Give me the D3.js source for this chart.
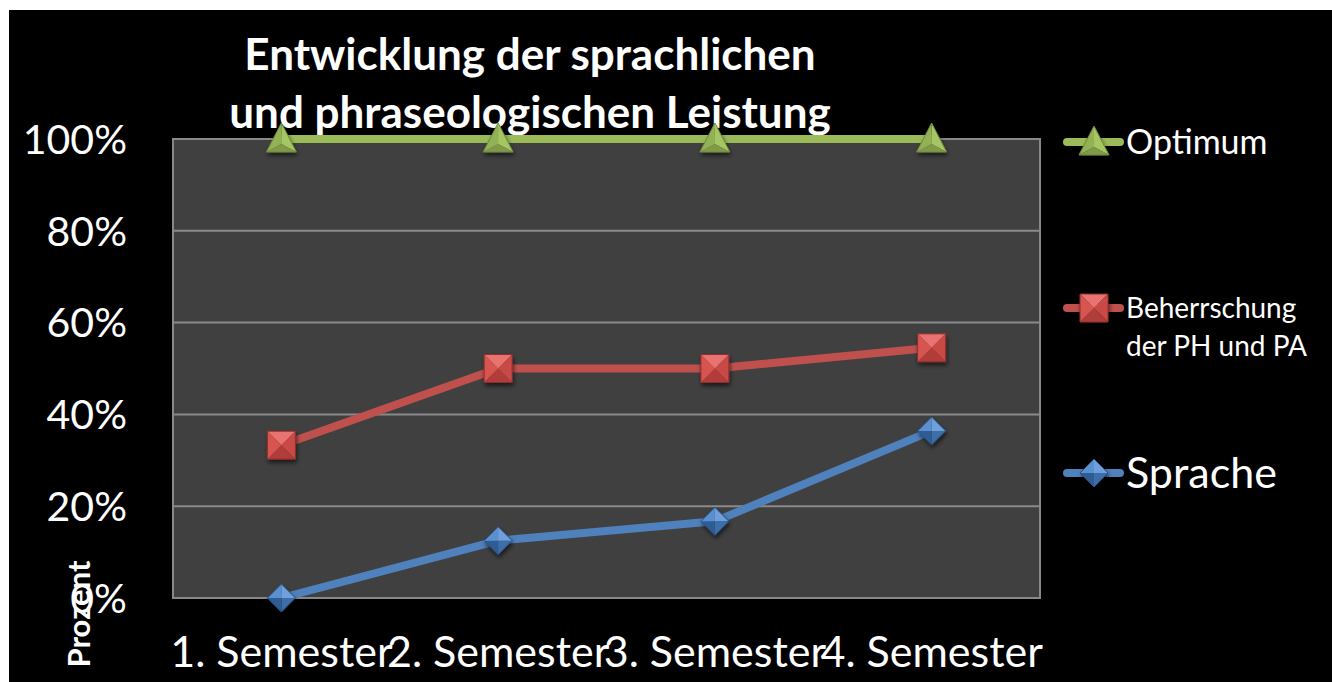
<!DOCTYPE html>
<html>
<head>
<meta charset="utf-8">
<script src="https://cdn.jsdelivr.net/npm/d3@7"></script>
<style>
  html, body { margin: 0; padding: 0; background: #fff; }
  svg { display: block; }
  text { font-family: Lato, "Open Sans", sans-serif; fill: #fff; }
</style>
</head>
<body>
<div id="chart"></div>
<script>
// data
const semesters = ["1. Semester", "2. Semester", "3. Semester", "4. Semester"];
const optimum = [1, 1, 1, 1];
const beherrschung = [0.333, 0.5, 0.5, 0.545];
const sprache = [0, 0.125, 0.167, 0.364];
const yTicks = [0, 0.2, 0.4, 0.6, 0.8, 1];
const titleLines = ["Entwicklung der sprachlichen", "und phraseologischen Leistung"];

const W = 1332, H = 682;
const plot = { left: 173, right: 1040, top: 139, bottom: 598 };

const svg = d3.select("#chart").append("svg")
  .attr("width", W).attr("height", H);

// black slide area
svg.append("rect").attr("x", 9).attr("y", 10)
  .attr("width", W - 9).attr("height", H - 10).attr("fill", "#000");

const defs = svg.append("defs");
const shadow = defs.append("filter").attr("id", "shadow")
  .attr("x", "-50%").attr("y", "-50%").attr("width", "200%").attr("height", "200%");
shadow.append("feDropShadow").attr("dx", 1).attr("dy", 3)
  .attr("stdDeviation", 2).attr("flood-color", "#000").attr("flood-opacity", 0.6);

const x = d3.scaleBand().domain(semesters).range([plot.left, plot.right]);
const y = d3.scaleLinear().domain([0, 1]).range([plot.bottom, plot.top]);
const cx = d => x(d) + x.bandwidth() / 2;

// plot area
svg.append("rect")
  .attr("x", plot.left).attr("y", plot.top)
  .attr("width", plot.right - plot.left).attr("height", plot.bottom - plot.top)
  .attr("fill", "#404040").attr("stroke", "#888").attr("stroke-width", 2);

// gridlines
svg.append("g").selectAll("line")
  .data(yTicks.filter(t => t > 0 && t < 1))
  .enter().append("line")
  .attr("x1", plot.left).attr("x2", plot.right)
  .attr("y1", d => y(d)).attr("y2", d => y(d))
  .attr("stroke", "#8a8a8a").attr("stroke-width", 2);

// y axis
const yAxis = svg.append("g")
  .attr("transform", `translate(${plot.left},0)`)
  .call(d3.axisLeft(y).tickValues(yTicks).tickFormat(d3.format(".0%"))
    .tickSize(0).tickPadding(46));
yAxis.select(".domain").remove();
yAxis.selectAll("text")
  .attr("fill", "#fff").style("font-size", "41px")
  .style("font-family", "Lato, sans-serif").attr("dy", "0.35em");

// x axis
const xAxis = svg.append("g")
  .attr("transform", `translate(0,${plot.bottom})`)
  .call(d3.axisBottom(x).tickSize(0).tickPadding(38));
xAxis.select(".domain").remove();
xAxis.selectAll("text")
  .attr("fill", "#fff").style("font-size", "43px")
  .style("font-family", "Lato, sans-serif");

// axis title
svg.append("text")
  .attr("transform", "translate(90,614) rotate(-90)")
  .attr("text-anchor", "middle")
  .style("font-size", "31px").style("font-weight", "bold")
  .text("Prozent");

// title
svg.append("g").selectAll("text")
  .data(titleLines).enter().append("text")
  .attr("x", 530).attr("y", (d, i) => 70 + i * 58)
  .attr("text-anchor", "middle")
  .style("font-size", "44px").style("font-weight", "bold")
  .text(d => d);

// marker drawing
function facets(g, pts, c, shades) {
  // pts: polygon corners around center c, draw faceted pyramid
  pts.forEach((p, i) => {
    const q = pts[(i + 1) % pts.length];
    g.append("path")
      .attr("d", `M${p[0]},${p[1]}L${q[0]},${q[1]}L${c[0]},${c[1]}Z`)
      .attr("fill", shades[i % shades.length]);
  });
  g.append("path")
    .attr("d", "M" + pts.map(p => p.join(",")).join("L") + "Z")
    .attr("fill", "none").attr("stroke", shades[shades.length - 1]).attr("stroke-width", 1);
}

function marker(g, type, px, py) {
  const m = g.append("g").attr("transform", `translate(${px},${py})`)
    .attr("filter", "url(#shadow)");
  if (type === "triangle") {
    facets(m, [[0, -16], [15, 13], [-15, 13]], [0, 5],
      ["#a5c663", "#7f9a48", "#93b256", "#6f8a3c"]);
  } else if (type === "square") {
    facets(m, [[-14, -14], [14, -14], [14, 14], [-14, 14]], [0, 0],
      ["#e87370", "#c94a47", "#b13d3a", "#d65450", "#8e2f2d"]);
  } else {
    facets(m, [[0, -14], [14, 0], [0, 14], [-14, 0]], [0, 0],
      ["#6fa0dc", "#3d6ea8", "#2f5c93", "#5a8fd0", "#2a4f80"]);
  }
}

const seriesList = [
  { name: "Optimum", values: optimum, color: "#9bbb59", type: "triangle" },
  { name: "Beherrschung", values: beherrschung, color: "#c0504d", type: "square" },
  { name: "Sprache", values: sprache, color: "#4f81bd", type: "diamond" }
];

const line = d3.line().x((d, i) => cx(semesters[i])).y(d => y(d));

seriesList.forEach(s => {
  svg.append("path").datum(s.values)
    .attr("d", line).attr("fill", "none")
    .attr("stroke", s.color).attr("stroke-width", 8)
    .attr("stroke-linejoin", "round");
});
seriesList.forEach(s => {
  const g = svg.append("g");
  s.values.forEach((v, i) => marker(g, s.type, cx(semesters[i]), y(v)));
});

// legend
const legend = [
  { s: seriesList[0], y: 142, lines: ["Optimum"], size: 34 },
  { s: seriesList[1], y: 308, lines: ["Beherrschung", "der PH und PA"], size: 28 },
  { s: seriesList[2], y: 473, lines: ["Sprache"], size: 43 }
];
legend.forEach(l => {
  const g = svg.append("g");
  g.append("line").attr("x1", 1067).attr("x2", 1120)
    .attr("y1", l.y).attr("y2", l.y)
    .attr("stroke", l.s.color).attr("stroke-width", 8).attr("stroke-linecap", "round");
  marker(g, l.s.type, 1094, l.y);
  l.lines.forEach((t, i) => {
    g.append("text").attr("x", 1126).attr("y", l.y + i * l.size * 1.35)
      .attr("dy", "0.35em").style("font-size", l.size + "px").text(t);
  });
});
</script>
</body>
</html>
